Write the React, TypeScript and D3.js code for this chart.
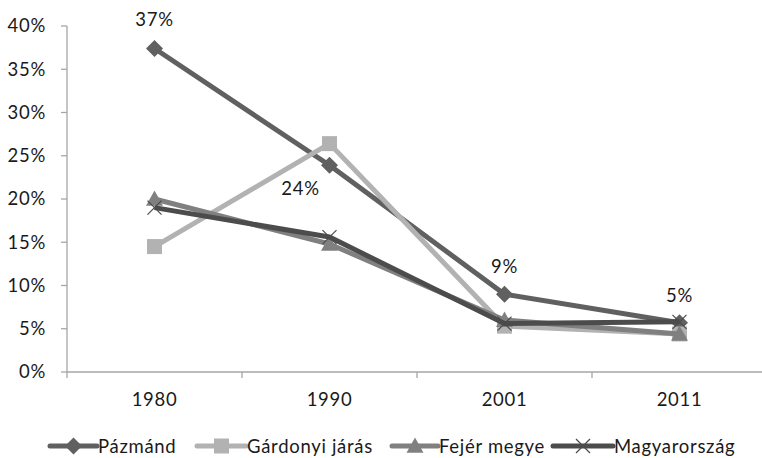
import React from "react";
import * as d3 from "d3";

const categories = ["1980", "1990", "2001", "2011"];
const seriesNames = ["Pázmánd", "Gárdonyi járás", "Fejér megye", "Magyarország"];
const pazmand = [37.4, 23.9, 9.0, 5.7];
const gardonyi = [14.5, 26.4, 5.3, 4.4];
const fejer = [20.0, 14.8, 6.0, 4.4];
const magyarorszag = [19.0, 15.6, 5.6, 5.8];
const yTicks = [0, 5, 10, 15, 20, 25, 30, 35, 40];
const labelValues = ["37%", "24%", "9%", "5%"];

const W = 762, H = 458;
const FONT = "Lato, 'Open Sans', sans-serif";
const FS = 18.5;
const LS = 0.7;

const colors = ["#606060", "#b2b2b2", "#808080", "#4c4c4c"];
const markers = ["diamond", "square", "triangle", "x"];

function Marker({ type, x, y, color }: { type: string; x: number; y: number; color: string }) {
  if (type === "diamond") {
    const s = 8.5;
    return <path d={`M${x},${y - s}L${x + s},${y}L${x},${y + s}L${x - s},${y}Z`} fill={color} />;
  }
  if (type === "square") {
    const s = 7.5;
    return <rect x={x - s} y={y - s} width={2 * s} height={2 * s} fill={color} />;
  }
  if (type === "triangle") {
    const s = 8.5;
    return <path d={`M${x},${y - s}L${x + s},${y + s * 0.8}L${x - s},${y + s * 0.8}Z`} fill={color} />;
  }
  const s = 7;
  return (
    <g stroke={color} strokeWidth={1.2}>
      <line x1={x - s} y1={y - s} x2={x + s} y2={y + s} />
      <line x1={x - s} y1={y + s} x2={x + s} y2={y - s} />
    </g>
  );
}

export default function App() {
  const x = d3.scaleBand<string>().domain(categories).range([67, 767]);
  const y = d3.scaleLinear().domain([0, 40]).range([372, 26]);
  const cx = (c: string) => (x(c) as number) + x.bandwidth() / 2;
  const data = [pazmand, gardonyi, fejer, magyarorszag];
  const line = d3
    .line<number>()
    .x((_, i) => cx(categories[i]))
    .y((d) => y(d));

  const labelOffsets = [
    { dx: 0, dy: -22 },
    { dx: -29, dy: 30 },
    { dx: 0, dy: -21 },
    { dx: 0, dy: -21 },
  ];

  const legendItems = [
    { lx: 50, lx2: 97, tx: 98 },
    { lx: 197, lx2: 246, tx: 247 },
    { lx: 392, lx2: 438, tx: 439 },
    { lx: 553, lx2: 613, tx: 614 },
  ];

  const tickXs = [67, ...categories.map((c) => (x(c) as number) + x.bandwidth())];
  const textProps = { fontFamily: FONT, fontSize: FS, fill: "#1a1a1a", letterSpacing: LS };

  return (
    <svg width={W} height={H} style={{ position: "absolute", left: 0, top: 0, background: "#fff" }}>
      <rect width={W} height={H} fill="#fff" />
      {/* y axis */}
      <line x1={67} y1={26} x2={67} y2={372} stroke="#a6a6a6" strokeWidth={1.3} />
      {yTicks.map((t) => (
        <g key={t}>
          <line x1={61} y1={y(t)} x2={67} y2={y(t)} stroke="#a6a6a6" strokeWidth={1.3} />
          <text x={46} y={y(t)} dy="0.35em" textAnchor="end" {...textProps}>
            {t}%
          </text>
        </g>
      ))}
      {/* x axis */}
      <line x1={67} y1={372} x2={W} y2={372} stroke="#a6a6a6" strokeWidth={1.3} />
      {tickXs.map((tx, i) => (
        <line key={i} x1={tx} y1={372} x2={tx} y2={378} stroke="#a6a6a6" strokeWidth={1.3} />
      ))}
      {categories.map((c) => (
        <text key={c} x={cx(c)} y={406} textAnchor="middle" {...textProps}>
          {c}
        </text>
      ))}
      {/* lines */}
      {data.map((d, si) => (
        <g key={si}>
          <path d={line(d) as string} fill="none" stroke={colors[si]} strokeWidth={5} strokeLinejoin="round" />
          {d.map((v, i) => (
            <Marker key={i} type={markers[si]} x={cx(categories[i])} y={y(v)} color={colors[si]} />
          ))}
        </g>
      ))}
      {/* data labels */}
      {pazmand.map((v, i) => (
        <text
          key={i}
          x={cx(categories[i]) + labelOffsets[i].dx}
          y={y(v) + labelOffsets[i].dy}
          textAnchor="middle"
          {...textProps}
        >
          {labelValues[i]}
        </text>
      ))}
      {/* legend */}
      {seriesNames.map((n, i) => {
        const { lx, lx2, tx } = legendItems[i];
        const mid = (lx + lx2) / 2;
        return (
          <g key={n}>
            <line x1={lx} y1={446} x2={lx2} y2={446} stroke={colors[i]} strokeWidth={5} strokeLinecap="round" />
            <Marker type={markers[i]} x={mid} y={446} color={colors[i]} />
            <text x={tx} y={446} dy="0.36em" {...textProps}>
              {n}
            </text>
          </g>
        );
      })}
    </svg>
  );
}
